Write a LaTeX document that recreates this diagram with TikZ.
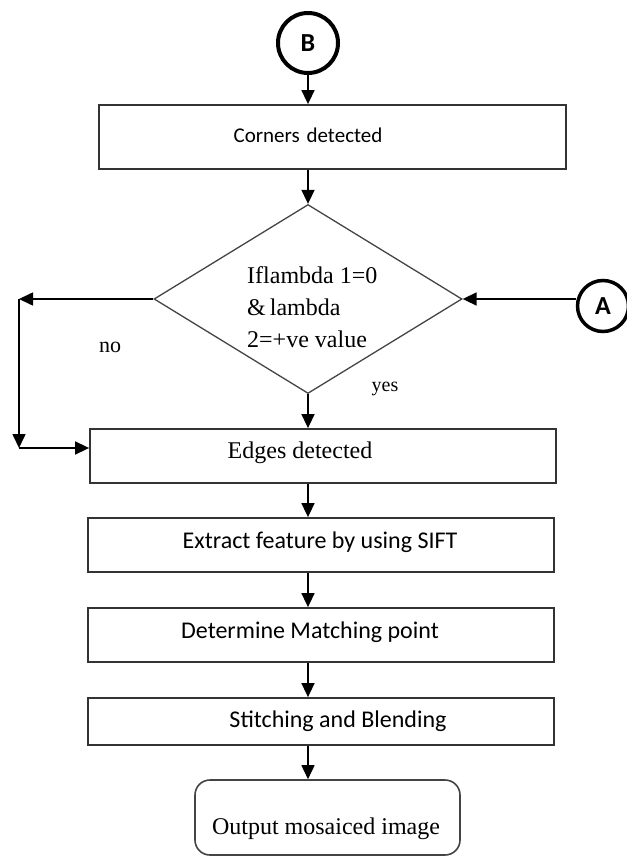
\documentclass[tikz,border=0pt]{standalone}
\usepackage{fontspec}
\setmainfont{Liberation Serif}
\newfontfamily\calfont{Carlito}
\usetikzlibrary{arrows.meta,shapes.geometric}
\definecolor{boxgray}{HTML}{333333}
\definecolor{diagray}{HTML}{444444}
\begin{document}
\begin{tikzpicture}[x=1pt,y=-1pt,
  box/.style={draw=boxgray,line width=1.8pt,minimum width=466pt,minimum height=54pt,inner sep=0pt},
  arr/.style={line width=1.6pt,-{Triangle[length=14pt,width=13pt]}},
  ln/.style={line width=1.6pt},
  conn/.style={circle,draw,line width=4pt,inner sep=0pt,font=\calfont\bfseries\fontsize{26}{26}\selectfont},
  sanst/.style={font=\calfont\fontsize{24}{28}\selectfont,inner sep=0pt},
  serift/.style={font=\fontsize{24}{32}\selectfont,inner sep=0pt}
]
\useasboundingbox (0,0) rectangle (626,858);

% connectors (circles)
\node[conn,minimum size=60pt] (B) at (308,43) {B};
\node[conn,minimum size=51pt,line width=3.5pt] (A) at (603,306) {A};

% boxes
\node[box,minimum width=467pt,minimum height=64pt] (corners) at (332.5,137) {};
\node[sanst,font=\calfont\fontsize{21}{26}\selectfont] (cornerst) at (308,135) {Corners\hspace{2pt} detected};

\node[diamond,draw=diagray,line width=1.3pt,minimum width=308pt,minimum height=189pt,inner sep=0pt] (dia) at (308,299) {};
\node[serift,align=left,anchor=west] (diat) at (247,307) {Iflambda 1=0\\\&\,lambda\\2=+ve value};

\node[box] (edges) at (323,456) {};
\node[serift] (edgest) at (300,453) {Edges detected};

\node[box] (extract) at (321,545) {};
\node[sanst] (extractt) at (320,542) {Extract feature by using SIFT};

\node[box] (determine) at (321,635) {};
\node[sanst] (determinet) at (310,632) {Determine Matching point};

\node[box,minimum height=47pt] (stitch) at (321,721.5) {};
\node[sanst] (stitcht) at (338,721) {Stitching and Blending};

\node[draw=diagray,line width=1.6pt,rounded corners=15pt,minimum width=265pt,minimum height=75pt,inner sep=0pt] (output) at (327.5,817.5) {};
\node[serift] (outputt) at (326,829) {Output mosaiced image};

% labels
\node[serift,font=\fontsize{22}{26}\selectfont] (no) at (110,347) {no};
\node[serift,font=\fontsize{20}{24}\selectfont] (yes) at (385,389) {yes};

% helper coordinates
\coordinate (c1) at (19,299);
\coordinate (c2) at (19,448);

% arrows
\draw[arr] (B.south) -- (B.south |- corners.north);
\draw[arr] (dia.north |- corners.south) -- (dia.north);
\draw[arr] (dia.west) -- (c1);
\draw[arr] (c1) -- (c2);
\draw[arr] (c2) -- (c2 -| edges.west);
\draw[arr] (dia.east -| A.west) -- (dia.east);
\draw[arr] (dia.south) -- (dia.south |- edges.north);
\draw[arr] (dia.south |- edges.south) -- (dia.south |- extract.north);
\draw[arr] (dia.south |- extract.south) -- (dia.south |- determine.north);
\draw[arr] (dia.south |- determine.south) -- (dia.south |- stitch.north);
\draw[arr] (dia.south |- stitch.south) -- (dia.south |- output.north);
\end{tikzpicture}
\end{document}
